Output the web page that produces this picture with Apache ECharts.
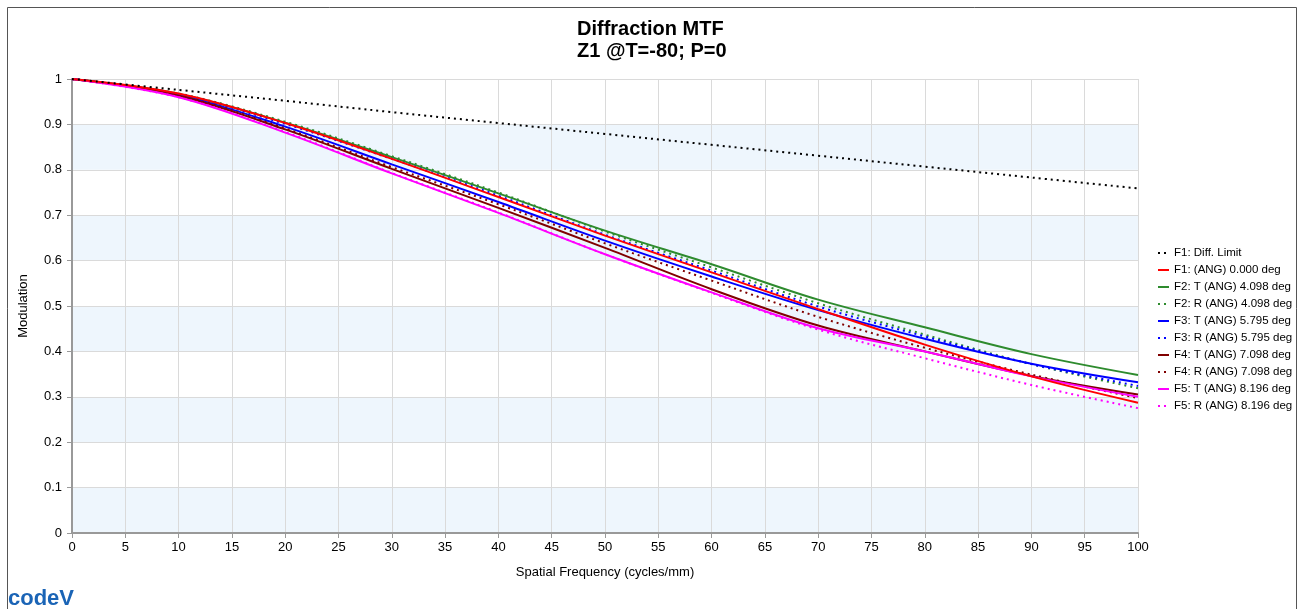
<!DOCTYPE html>
<html>
<head>
<meta charset="utf-8">
<script src="https://cdn.jsdelivr.net/npm/echarts@6/dist/echarts.min.js"></script>
<style>
html,body{margin:0;padding:0;background:#fff;}
#chart{width:1301px;height:609px;}
</style>
</head>
<body>
<div id="chart"></div>
<script>
// ---- data ----
const freq = [0, 10, 20, 30, 40, 50, 60, 70, 80, 90, 100];
const diffLimit = [1, 0.976, 0.952, 0.927, 0.903, 0.879, 0.855, 0.831, 0.807, 0.783, 0.759];
const f1Ang   = [1, 0.968, 0.903, 0.824, 0.740, 0.655, 0.574, 0.493, 0.415, 0.345, 0.287];
const f2T     = [1, 0.967, 0.904, 0.828, 0.748, 0.666, 0.592, 0.514, 0.453, 0.394, 0.348];
const f2R     = [1, 0.968, 0.906, 0.830, 0.750, 0.664, 0.585, 0.506, 0.437, 0.372, 0.319];
const f3T     = [1, 0.965, 0.895, 0.812, 0.729, 0.644, 0.565, 0.491, 0.428, 0.373, 0.332];
const f3R     = [1, 0.967, 0.901, 0.824, 0.743, 0.657, 0.578, 0.499, 0.433, 0.372, 0.324];
const f4T     = [1, 0.963, 0.889, 0.802, 0.716, 0.628, 0.537, 0.457, 0.400, 0.346, 0.305];
const f4R     = [1, 0.964, 0.891, 0.806, 0.724, 0.638, 0.556, 0.476, 0.408, 0.349, 0.297];
const f5T     = [1, 0.960, 0.882, 0.792, 0.705, 0.614, 0.530, 0.451, 0.400, 0.345, 0.300];
const f5R     = [1, 0.960, 0.883, 0.793, 0.706, 0.614, 0.529, 0.448, 0.385, 0.326, 0.275];
const seriesNames = [
  'F1: Diff. Limit', 'F1: (ANG) 0.000 deg',
  'F2: T (ANG) 4.098 deg', 'F2: R (ANG) 4.098 deg',
  'F3: T (ANG) 5.795 deg', 'F3: R (ANG) 5.795 deg',
  'F4: T (ANG) 7.098 deg', 'F4: R (ANG) 7.098 deg',
  'F5: T (ANG) 8.196 deg', 'F5: R (ANG) 8.196 deg'
];
const seriesValues = [diffLimit, f1Ang, f2T, f2R, f3T, f3R, f4T, f4R, f5T, f5R];
const seriesColors = ['#000000', '#ff0000', '#2e8b2e', '#2e8b2e', '#0000ff', '#0000ff', '#800000', '#800000', '#ff00ff', '#ff00ff'];
const seriesDotted = [true, false, false, true, false, true, false, true, false, true];
const xTicks = { min: 0, max: 100, step: 5 };
const yTicks = { min: 0, max: 1, step: 0.1 };

const font = 'Liberation Sans, Arial, sans-serif';
const chart = echarts.init(document.getElementById('chart'));

const series = seriesNames.map((name, i) => ({
  name: name,
  type: 'line',
  smooth: 0.35,
  symbol: 'none',
  showSymbol: false,
  z: i === 1 ? 5 : (i === 0 ? 6 : 2),
  data: freq.map((f, k) => [f, seriesValues[i][k]]),
  lineStyle: {
    color: seriesColors[i],
    width: 2,
    type: seriesDotted[i] ? [2, 4] : 'solid'
  },
  itemStyle: { color: seriesColors[i] }
}));

chart.setOption({
  backgroundColor: '#ffffff',
  animation: false,
  title: {
    text: 'Diffraction MTF\nZ1 @T=-80; P=0',
    left: 572, top: 13, textAlign: 'left',
    textStyle: { fontFamily: font, fontSize: 20, fontWeight: 'bold', color: '#000', lineHeight: 22 }
  },
  legend: {
    orient: 'vertical',
    left: 1152, top: 242,
    itemWidth: 11, itemHeight: 12, itemGap: 5,
    data: seriesNames,
    itemStyle: { color: 'transparent', borderColor: 'transparent', borderWidth: 0 },
    textStyle: { fontFamily: font, fontSize: 11.5, color: '#000' }
  },
  grid: { left: 72, right: 163, top: 79, bottom: 76 },
  xAxis: {
    type: 'value', min: xTicks.min, max: xTicks.max, interval: xTicks.step,
    name: 'Spatial Frequency (cycles/mm)', nameLocation: 'middle', nameGap: 33,
    nameTextStyle: { fontFamily: font, fontSize: 13, color: '#000' },
    axisLine: { show: true, lineStyle: { color: '#999', width: 2 } },
    axisTick: { show: true, length: 5, lineStyle: { color: '#999' } },
    axisLabel: { fontFamily: font, fontSize: 13, color: '#000', margin: 8 },
    splitLine: { show: true, lineStyle: { color: '#dadada', width: 1 } }
  },
  yAxis: {
    type: 'value', min: yTicks.min, max: yTicks.max, interval: yTicks.step,
    name: 'Modulation', nameLocation: 'middle', nameGap: 42, nameRotate: 90,
    nameTextStyle: { fontFamily: font, fontSize: 13, color: '#000' },
    axisLine: { show: true, lineStyle: { color: '#999', width: 2 } },
    axisTick: { show: true, length: 5, lineStyle: { color: '#999' } },
    axisLabel: { fontFamily: font, fontSize: 13, color: '#000', margin: 10,
      formatter: v => String(Math.round(v * 10) / 10) },
    splitLine: { show: true, lineStyle: { color: '#dadada', width: 1 } },
    splitArea: { show: true, areaStyle: { color: ['#eef6fd', '#ffffff'] } }
  },
  graphic: [
    { type: 'rect', silent: true, z: -1,
      shape: { x: 7.5, y: 7.5, width: 1289, height: 640 },
      style: { fill: 'none', stroke: '#555', lineWidth: 1 } },
    { type: 'text', left: 8, top: 588, style: { text: 'codeV', fontFamily: font, fontSize: 22, fontWeight: 900, fill: '#1a64b6' } }
  ],
  series: series
});
</script>
</body>
</html>
